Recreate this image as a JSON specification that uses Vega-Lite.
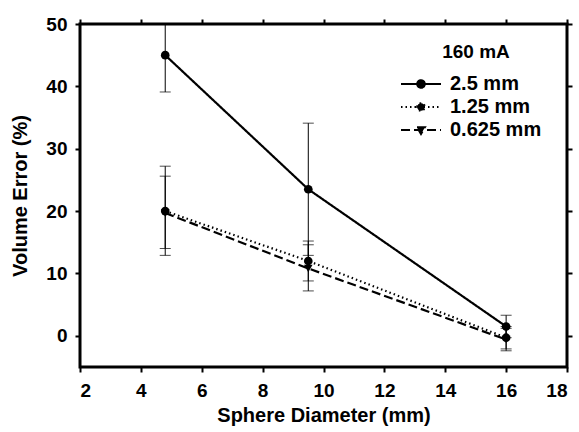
{
  "$schema": "https://vega.github.io/schema/vega-lite/v6.json",
  "width": 487,
  "height": 343,
  "autosize": "none",
  "padding": {"left": 80, "top": 24, "right": 12, "bottom": 65},
  "background": "white",
  "config": {
    "font": "Liberation Sans",
    "view": {"stroke": "black", "strokeWidth": 3},
    "axis": {
      "domain": false,
      "grid": false,
      "tickColor": "black",
      "tickWidth": 2,
      "tickSize": 5,
      "labelFont": "Liberation Sans",
      "labelFontWeight": "bold",
      "labelFontSize": 19,
      "labelColor": "black",
      "titleFont": "Liberation Sans",
      "titleFontWeight": "bold",
      "titleFontSize": 20,
      "titleColor": "black"
    }
  },
  "data": {
    "values": [
      {"series": "2.5 mm", "d": 4.8, "err": 45, "lo": 39.1, "hi": 51},
      {"series": "2.5 mm", "d": 9.5, "err": 23.5, "lo": 12.9, "hi": 34.1},
      {"series": "2.5 mm", "d": 16, "err": 1.5, "lo": -0.3, "hi": 3.3},
      {"series": "1.25 mm", "d": 4.8, "err": 20, "lo": 12.9, "hi": 27.2},
      {"series": "1.25 mm", "d": 9.5, "err": 12, "lo": 8.8, "hi": 15.2},
      {"series": "1.25 mm", "d": 16, "err": -0.3, "lo": -2.1, "hi": 1.5},
      {"series": "0.625 mm", "d": 4.8, "err": 19.7, "lo": 14.0, "hi": 25.6},
      {"series": "0.625 mm", "d": 9.5, "err": 10.8, "lo": 7.2, "hi": 14.6},
      {"series": "0.625 mm", "d": 16, "err": -0.6, "lo": -2.4, "hi": 1.2}
    ]
  },
  "resolve": {"axis": {"x": "independent", "y": "independent"}},
  "layer": [
    {
      "mark": {"type": "line", "color": "black", "strokeWidth": 2.2, "clip": true},
      "encoding": {
        "x": {"field": "d", "type": "quantitative", "scale": {"domain": [2, 18], "nice": false},
              "axis": {"orient": "bottom", "values": [2,4,6,8,10,12,14,16,18], "title": "Sphere Diameter (mm)", "labelPadding": 9, "titlePadding": 5}},
        "y": {"field": "err", "type": "quantitative", "scale": {"domain": [-5, 50], "nice": false, "zero": false},
              "axis": {"orient": "left", "values": [0,10,20,30,40,50], "title": "Volume Error (%)", "labelPadding": 8, "titlePadding": 15}},
        "strokeDash": {
          "field": "series", "type": "nominal",
          "scale": {"domain": ["2.5 mm", "1.25 mm", "0.625 mm"], "range": [[1, 0], [1.5, 3], [9, 4]]},
          "legend": {
            "title": "160 mA",
            "orient": "none",
            "legendX": 330,
            "legendY": 19,
            "titleFont": "Liberation Sans",
            "titleFontWeight": "bold",
            "titleFontSize": 19,
            "titleColor": "black",
            "titleAnchor": "middle",
            "titlePadding": 11,
            "labelFont": "Liberation Sans",
            "labelFontWeight": "bold",
            "labelFontSize": 20,
            "labelColor": "black",
            "labelOffset": 18,
            "rowPadding": 2,
            "symbolSize": 400,
            "symbolStrokeWidth": 2,
            "symbolStrokeColor": "black",
            "symbolFillColor": "black",
            "encode": {
              "symbols": {
                "update": {
                  "shape": {"signal": "datum.value == '0.625 mm' ? 'M-2,0 L2,0 M-0.4,-0.28 L0.4,-0.28 L0,0.4 Z' : 'M-2,0 L2,0 M-0.38,0 A0.38,0.38 0 1,1 0.38,0 A0.38,0.38 0 1,1 -0.38,0 Z'"},
                  "fill": {"value": "black"},
                  "stroke": {"value": "black"}
                }
              }
            }
          }
        }
      }
    },
    {
      "mark": {"type": "rule", "color": "black", "strokeWidth": 1, "clip": true},
      "encoding": {
        "x": {"field": "d", "type": "quantitative", "scale": {"domain": [2, 18], "nice": false},
              "axis": {"orient": "top", "values": [2,4,6,8,10,12,14,16,18], "labels": false, "title": null}},
        "y": {"field": "lo", "type": "quantitative", "scale": {"domain": [-5, 50], "nice": false, "zero": false},
              "axis": {"orient": "right", "values": [0,10,20,30,40,50], "labels": false, "title": null}},
        "y2": {"field": "hi"}
      }
    },
    {
      "mark": {"type": "tick", "orient": "horizontal", "color": "black", "size": 11, "thickness": 1, "clip": true},
      "encoding": {
        "x": {"field": "d", "type": "quantitative", "axis": null},
        "y": {"field": "lo", "type": "quantitative", "axis": null}
      }
    },
    {
      "mark": {"type": "tick", "orient": "horizontal", "color": "black", "size": 11, "thickness": 1, "clip": true},
      "encoding": {
        "x": {"field": "d", "type": "quantitative", "axis": null},
        "y": {"field": "hi", "type": "quantitative", "axis": null}
      }
    },
    {
      "transform": [{"filter": "datum.series != '0.625 mm'"}],
      "mark": {"type": "point", "shape": "circle", "filled": true, "color": "black", "opacity": 1, "size": 75},
      "encoding": {
        "x": {"field": "d", "type": "quantitative", "axis": null},
        "y": {"field": "err", "type": "quantitative", "axis": null}
      }
    },
    {
      "transform": [{"filter": "datum.series == '0.625 mm'"}],
      "mark": {"type": "point", "shape": "triangle-down", "filled": true, "color": "black", "opacity": 1, "size": 75},
      "encoding": {
        "x": {"field": "d", "type": "quantitative", "axis": null},
        "y": {"field": "err", "type": "quantitative", "axis": null}
      }
    }
  ]
}
